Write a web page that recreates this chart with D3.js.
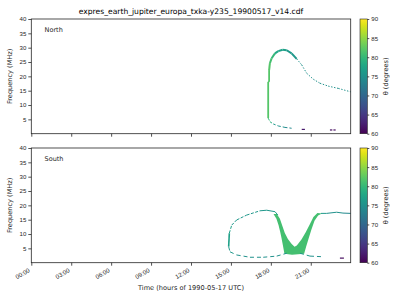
<!DOCTYPE html>
<html>
<head>
<meta charset="utf-8">
<script src="https://cdn.jsdelivr.net/npm/d3@7"></script>
<style>
  body { margin: 0; background: #fff; }
  svg { font-family: "DejaVu Sans", sans-serif; }
</style>
</head>
<body>
<svg id="chart" width="400" height="300"></svg>
<script>
// ---- data: [hour, frequency MHz, theta deg] ----
var hourTicks = [0, 3, 6, 9, 12, 15, 18, 21];
var hourTickLabels = ["00:00", "03:00", "06:00", "09:00", "12:00", "15:00", "18:00", "21:00"];
var freqTicks = [5, 10, 15, 20, 25, 30, 35, 40];
var thetaTicks = [60, 65, 70, 75, 80, 85, 90];

var northVertical = [[17.80, 5.4, 82], [17.80, 18.1, 82], [17.87, 18.1, 82], [17.87, 22.2, 82]];
var northArc = [[17.87, 22.2, 82], [17.93, 24.6, 81], [18.06, 26.3, 80], [18.31, 28.0, 78],
                [18.56, 28.8, 77], [18.89, 29.3, 77], [19.19, 29.1, 76], [19.56, 28.0, 76],
                [19.94, 26.1, 75]];
var northTail = [[19.94, 26.1, 75], [20.32, 24.0, 75], [20.69, 21.1, 75], [21.19, 19.0, 75],
                 [21.69, 17.6, 75], [22.31, 16.6, 75], [23.07, 15.8, 75], [24.0, 14.6, 75]];
var northLow = [[17.81, 5.4, 80], [17.93, 4.2, 79], [18.18, 3.4, 76], [18.56, 2.7, 75],
                [19.06, 2.2, 74], [19.56, 1.9, 69]];
var northSpots = [[[20.32, 1.5, 62], [20.56, 1.5, 62]],
                  [[22.44, 1.3, 61], [22.62, 1.3, 61]],
                  [[22.70, 1.3, 61], [22.87, 1.3, 61]]];

var southLoopSide = [[14.83, 5.6, 77], [14.88, 10.3, 77]];
var southLoopLeft = [[14.88, 10.3, 77], [15.06, 13.1, 76], [15.43, 14.9, 76],
                     [16.18, 16.6, 76], [17.18, 18.1, 76]];
var southLoopTop = [[17.18, 18.1, 76], [17.69, 18.3, 76], [18.31, 17.8, 77], [18.53, 16.6, 78]];
var southLoopBottom = [[14.83, 5.6, 76], [14.93, 3.8, 76], [15.43, 2.7, 75], [16.43, 1.9, 75],
                       [17.43, 1.9, 75], [18.44, 2.3, 75], [19.19, 3.3, 76]];
var southRightTop = [[21.77, 17.2, 76], [22.19, 17.2, 75], [22.94, 17.6, 75],
                     [23.42, 17.3, 74], [24.0, 17.2, 72]];
var southRightBottom = [[20.19, 3.3, 76], [20.94, 2.3, 75], [21.82, 2.1, 75]];
var southSpots = [[[23.19, 1.6, 61], [23.49, 1.6, 61]]];
var southVee = [[18.20, 17.0], [18.42, 15.3], [18.58, 13.1], [18.70, 10.8], [18.80, 8.6],
                [18.90, 6.2], [18.98, 4.2], [19.02, 3.1], [19.59, 2.8], [20.50, 3.1],
                [20.65, 5.6], [20.85, 8.6], [21.05, 11.6], [21.28, 14.6], [21.55, 16.5],
                [21.84, 17.2], [21.50, 17.3], [21.20, 15.9], [20.92, 13.3], [20.62, 10.6],
                [20.30, 8.1], [19.95, 6.0], [19.78, 5.6], [19.55, 6.6], [19.28, 8.3],
                [19.05, 10.4], [18.86, 12.9], [18.68, 15.3], [18.45, 17.0]];
var southVeeTheta = 81;

// ---- layout ----
var svg = d3.select("#chart");
var plotL = 31.3, plotR = 350.7;
var panels = [
  {name: "North", top: 19, bottom: 133.7},
  {name: "South", top: 148, bottom: 262.7}
];
var cbL = 360, cbR = 367.3;
var ink = "#262626";

var x = d3.scaleLinear().domain([0, 24]).range([plotL, plotR]);
var color = d3.scaleSequential(d3.interpolateViridis).domain([60, 90]);

// viridis gradient for the colour bars
var grad = svg.append("defs").append("linearGradient")
  .attr("id", "viridis").attr("x1", 0).attr("y1", 1).attr("x2", 0).attr("y2", 0);
grad.selectAll("stop").data(d3.range(0, 1.0001, 0.05)).enter().append("stop")
  .attr("offset", function(d){ return d; })
  .attr("stop-color", function(d){ return d3.interpolateViridis(d); });

function drawTrack(g, y, pts, width, dash) {
  var seg = g.append("g").attr("fill", "none").attr("stroke-width", width);
  for (var i = 0; i < pts.length - 1; i++) {
    seg.append("line")
      .attr("x1", x(pts[i][0])).attr("y1", y(pts[i][1]))
      .attr("x2", x(pts[i + 1][0])).attr("y2", y(pts[i + 1][1]))
      .attr("stroke", color(pts[i][2]))
      .attr("stroke-dasharray", dash || null);
  }
}

panels.forEach(function(p, idx) {
  var y = d3.scaleLinear().domain([0, 40]).range([p.bottom, p.top]);
  var g = svg.append("g");

  if (idx === 0) {
    drawTrack(g, y, northVertical, 1.8);
    drawTrack(g, y, northArc, 2);
    drawTrack(g, y, northTail, 1, "1.4,1.6");
    drawTrack(g, y, northLow, 1, "2.5,2");
    northSpots.forEach(function(s){ drawTrack(g, y, s, 1.2); });
  } else {
    g.append("path")
      .attr("d", d3.line().curve(d3.curveLinearClosed)
        .x(function(d){ return x(d[0]); }).y(function(d){ return y(d[1]); })(southVee))
      .attr("fill", color(southVeeTheta));
    drawTrack(g, y, southLoopSide, 1.6);
    drawTrack(g, y, southLoopLeft, 1, "3,1.5");
    drawTrack(g, y, southLoopTop, 1);
    drawTrack(g, y, southLoopBottom, 1, "4,3");
    drawTrack(g, y, southRightTop, 1);
    drawTrack(g, y, southRightBottom, 1, "4,3");
    southSpots.forEach(function(s){ drawTrack(g, y, s, 1.2); });
  }

  // frame
  svg.append("rect")
    .attr("x", plotL).attr("y", p.top)
    .attr("width", plotR - plotL).attr("height", p.bottom - p.top)
    .attr("fill", "none").attr("stroke", ink).attr("stroke-width", 0.8);

  // y axis
  var ya = svg.append("g").attr("transform", "translate(" + plotL + ",0)")
    .call(d3.axisLeft(y).tickValues(freqTicks).tickSize(3).tickPadding(2));
  ya.select(".domain").remove();
  ya.selectAll("line").attr("stroke", ink).attr("stroke-width", 0.8);
  ya.selectAll("text").attr("font-size", 6.1).attr("fill", ink).attr("font-family", null);

  // x axis (labels only on the lower panel)
  var xa = svg.append("g").attr("transform", "translate(0," + p.bottom + ")")
    .call(d3.axisBottom(x).tickValues(hourTicks).tickSize(3)
      .tickFormat(function(d, i){ return idx === 1 ? hourTickLabels[i] : ""; }));
  xa.select(".domain").remove();
  xa.selectAll("line").attr("stroke", ink).attr("stroke-width", 0.8);
  xa.selectAll("text")
    .attr("font-size", 6.1).attr("fill", ink).attr("font-family", null)
    .attr("text-anchor", "end").attr("y", 0).attr("dy", 0)
    .attr("transform", "translate(-1.5,8.8) rotate(-30)");

  svg.append("text")
    .attr("x", x(1.0)).attr("y", p.top + 12.5)
    .attr("font-size", 6.5).attr("fill", ink)
    .text(p.name);

  svg.append("text")
    .attr("transform", "translate(10," + ((p.top + p.bottom) / 2) + ") rotate(-90)")
    .attr("text-anchor", "middle").attr("dy", "0.35em")
    .attr("font-size", 6.6).attr("fill", ink)
    .text("Frequency (MHz)");

  // colour bar
  var cy = d3.scaleLinear().domain([60, 90]).range([p.bottom, p.top]);
  svg.append("rect")
    .attr("x", cbL).attr("y", p.top)
    .attr("width", cbR - cbL).attr("height", p.bottom - p.top)
    .attr("fill", "url(#viridis)").attr("stroke", ink).attr("stroke-width", 0.6);
  var ca = svg.append("g").attr("transform", "translate(" + cbR + ",0)")
    .call(d3.axisRight(cy).tickValues(thetaTicks).tickSize(2).tickPadding(2));
  ca.select(".domain").remove();
  ca.selectAll("line").attr("stroke", ink).attr("stroke-width", 0.8);
  ca.selectAll("text").attr("font-size", 6.1).attr("fill", ink).attr("font-family", null);

  svg.append("text")
    .attr("transform", "translate(385.5," + ((p.top + p.bottom) / 2) + ") rotate(-90)")
    .attr("text-anchor", "middle").attr("dy", "0.35em")
    .attr("font-size", 6.6).attr("fill", ink)
    .text("θ (degrees)");
});

svg.append("text")
  .attr("x", (plotL + plotR) / 2).attr("y", 13.5)
  .attr("text-anchor", "middle")
  .attr("font-size", 7.6).attr("fill", "#000")
  .text("expres_earth_jupiter_europa_txka-y235_19900517_v14.cdf");

svg.append("text")
  .attr("x", (plotL + plotR) / 2).attr("y", 289.5)
  .attr("text-anchor", "middle")
  .attr("font-size", 6.6).attr("fill", ink)
  .text("Time (hours of 1990-05-17 UTC)");
</script>
</body>
</html>
